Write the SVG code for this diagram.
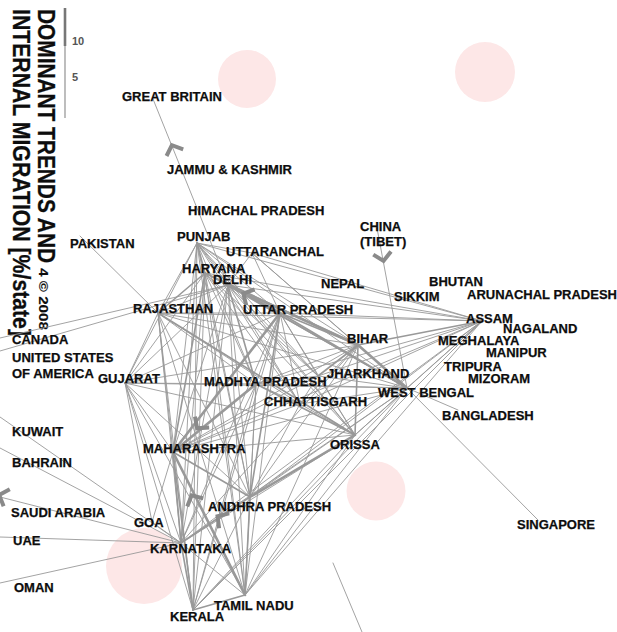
<svg xmlns="http://www.w3.org/2000/svg" width="617" height="632" viewBox="0 0 617 632">
<style>
.lbl{font-family:"Liberation Sans",Arial,Helvetica,sans-serif;font-weight:bold;font-size:13px;fill:#0d0d0d;stroke:#0d0d0d;stroke-width:0.25}
.ttl{font-family:"Liberation Sans",Arial,Helvetica,sans-serif;font-weight:bold;font-size:24px;fill:#0d0d0d;stroke:#0d0d0d;stroke-width:0.3}
.leg{font-family:"Liberation Sans",Arial,Helvetica,sans-serif;font-weight:bold;font-size:11px;fill:#555}
.blob{fill:#fde7e7}
#edges line{stroke:#999;stroke-linecap:round}
.w1{stroke-width:0.9}
.w2{stroke-width:1.6}
.w3{stroke-width:2.6}
.chev{fill:none;stroke:#8a8a8a;stroke-width:4;stroke-linejoin:miter}
</style>
<defs>
<path id="chev" d="M-9,5 L0,-3 L9,5"/>
</defs>
<rect width="617" height="632" fill="#fff"/>
<g id="blobs">
<circle class="blob" cx="247" cy="79" r="29"/>
<circle class="blob" cx="485" cy="72" r="30"/>
<circle class="blob" cx="376" cy="491" r="29.5"/>
<circle class="blob" cx="144" cy="566" r="38"/>
</g>
<g id="title">
<text class="ttl" transform="translate(38,9) rotate(90)" textLength="254" lengthAdjust="spacingAndGlyphs">DOMINANT TRENDS AND</text>
<text class="ttl" style="font-size:12.5px;stroke-width:0.15" transform="translate(39,268) rotate(90)" textLength="62" lengthAdjust="spacingAndGlyphs">4 © 2008</text>
<text class="ttl" transform="translate(13,9) rotate(90)" textLength="327" lengthAdjust="spacingAndGlyphs">INTERNAL MIGRATION [%/state]</text>
</g>
<g id="legend">
<line x1="65" y1="8" x2="65" y2="46" stroke="#777" stroke-width="2.6"/>
<line x1="65" y1="46" x2="65" y2="118" stroke="#888" stroke-width="1.1"/>
<text class="leg" x="72" y="45">10</text>
<text class="leg" x="72" y="81">5</text>
</g>
<g id="edges">
<line class="w1" x1="153" y1="99" x2="228" y2="285"/>
<line class="w1" x1="0" y1="338" x2="228" y2="285"/>
<line class="w1" x1="0" y1="351" x2="228" y2="285"/>
<line class="w1" x1="80" y1="236" x2="158" y2="313"/>
<line class="w1" x1="377" y1="228" x2="407" y2="388"/>
<line class="w1" x1="407" y1="388" x2="458" y2="410"/>
<line class="w1" x1="407" y1="388" x2="538" y2="520"/>
<line class="w1" x1="0" y1="417" x2="181" y2="543"/>
<line class="w1" x1="0" y1="448" x2="181" y2="543"/>
<line class="w1" x1="0" y1="497" x2="181" y2="543"/>
<line class="w1" x1="0" y1="537" x2="181" y2="543"/>
<line class="w1" x1="0" y1="583" x2="181" y2="543"/>
<line class="w1" x1="333" y1="563" x2="362" y2="632"/>
<line class="w1" x1="197" y1="243" x2="158" y2="313"/>
<line class="w1" x1="197" y1="243" x2="125" y2="383"/>
<line class="w1" x1="197" y1="243" x2="173" y2="452"/>
<line class="w1" x1="197" y1="243" x2="181" y2="543"/>
<line class="w1" x1="197" y1="243" x2="256" y2="384"/>
<line class="w1" x1="197" y1="243" x2="280" y2="313"/>
<line class="w1" x1="197" y1="243" x2="358" y2="345"/>
<line class="w1" x1="197" y1="243" x2="482" y2="321"/>
<line class="w1" x1="197" y1="243" x2="407" y2="388"/>
<line class="w2" x1="197" y1="243" x2="205" y2="273"/>
<line class="w1" x1="197" y1="243" x2="228" y2="285"/>
<line class="w1" x1="197" y1="243" x2="300" y2="404"/>
<line class="w1" x1="197" y1="243" x2="355" y2="435"/>
<line class="w1" x1="197" y1="243" x2="193" y2="610"/>
<line class="w1" x1="197" y1="243" x2="245" y2="595"/>
<line class="w1" x1="197" y1="243" x2="250" y2="497"/>
<line class="w1" x1="197" y1="243" x2="318" y2="376"/>
<line class="w1" x1="197" y1="243" x2="252" y2="253"/>
<line class="w2" x1="205" y1="273" x2="158" y2="313"/>
<line class="w1" x1="205" y1="273" x2="125" y2="383"/>
<line class="w2" x1="205" y1="273" x2="173" y2="452"/>
<line class="w1" x1="205" y1="273" x2="256" y2="384"/>
<line class="w1" x1="205" y1="273" x2="280" y2="313"/>
<line class="w2" x1="205" y1="273" x2="358" y2="345"/>
<line class="w1" x1="205" y1="273" x2="482" y2="321"/>
<line class="w1" x1="205" y1="273" x2="407" y2="388"/>
<line class="w1" x1="205" y1="273" x2="181" y2="543"/>
<line class="w1" x1="205" y1="273" x2="250" y2="497"/>
<line class="w1" x1="205" y1="273" x2="355" y2="435"/>
<line class="w1" x1="205" y1="273" x2="245" y2="595"/>
<line class="w1" x1="205" y1="273" x2="318" y2="376"/>
<line class="w1" x1="205" y1="273" x2="300" y2="404"/>
<line class="w1" x1="205" y1="273" x2="193" y2="610"/>
<line class="w1" x1="228" y1="285" x2="158" y2="313"/>
<line class="w1" x1="228" y1="285" x2="125" y2="383"/>
<line class="w1" x1="228" y1="285" x2="173" y2="452"/>
<line class="w2" x1="228" y1="285" x2="256" y2="384"/>
<line class="w3" x1="228" y1="285" x2="280" y2="313"/>
<line class="w3" x1="228" y1="285" x2="358" y2="345"/>
<line class="w1" x1="228" y1="285" x2="482" y2="321"/>
<line class="w2" x1="228" y1="285" x2="407" y2="388"/>
<line class="w1" x1="228" y1="285" x2="181" y2="543"/>
<line class="w1" x1="228" y1="285" x2="250" y2="497"/>
<line class="w1" x1="228" y1="285" x2="355" y2="435"/>
<line class="w1" x1="228" y1="285" x2="245" y2="595"/>
<line class="w1" x1="228" y1="285" x2="193" y2="610"/>
<line class="w1" x1="228" y1="285" x2="318" y2="376"/>
<line class="w1" x1="228" y1="285" x2="300" y2="404"/>
<line class="w1" x1="228" y1="285" x2="252" y2="253"/>
<line class="w1" x1="252" y1="253" x2="280" y2="313"/>
<line class="w1" x1="252" y1="253" x2="482" y2="321"/>
<line class="w1" x1="252" y1="253" x2="358" y2="345"/>
<line class="w1" x1="252" y1="253" x2="407" y2="388"/>
<line class="w1" x1="158" y1="313" x2="125" y2="383"/>
<line class="w1" x1="158" y1="313" x2="173" y2="452"/>
<line class="w1" x1="158" y1="313" x2="256" y2="384"/>
<line class="w1" x1="158" y1="313" x2="280" y2="313"/>
<line class="w1" x1="158" y1="313" x2="358" y2="345"/>
<line class="w1" x1="158" y1="313" x2="482" y2="321"/>
<line class="w1" x1="158" y1="313" x2="407" y2="388"/>
<line class="w1" x1="158" y1="313" x2="181" y2="543"/>
<line class="w1" x1="158" y1="313" x2="245" y2="595"/>
<line class="w1" x1="158" y1="313" x2="250" y2="497"/>
<line class="w2" x1="158" y1="313" x2="355" y2="435"/>
<line class="w1" x1="158" y1="313" x2="300" y2="404"/>
<line class="w1" x1="158" y1="313" x2="193" y2="610"/>
<line class="w1" x1="280" y1="313" x2="256" y2="384"/>
<line class="w3" x1="280" y1="313" x2="173" y2="452"/>
<line class="w1" x1="280" y1="313" x2="125" y2="383"/>
<line class="w2" x1="280" y1="313" x2="358" y2="345"/>
<line class="w1" x1="280" y1="313" x2="482" y2="321"/>
<line class="w2" x1="280" y1="313" x2="407" y2="388"/>
<line class="w1" x1="280" y1="313" x2="318" y2="376"/>
<line class="w1" x1="280" y1="313" x2="355" y2="435"/>
<line class="w1" x1="280" y1="313" x2="300" y2="404"/>
<line class="w1" x1="280" y1="313" x2="181" y2="543"/>
<line class="w2" x1="280" y1="313" x2="250" y2="497"/>
<line class="w1" x1="280" y1="313" x2="245" y2="595"/>
<line class="w1" x1="280" y1="313" x2="193" y2="610"/>
<line class="w3" x1="358" y1="345" x2="407" y2="388"/>
<line class="w2" x1="358" y1="345" x2="318" y2="376"/>
<line class="w2" x1="358" y1="345" x2="355" y2="435"/>
<line class="w2" x1="358" y1="345" x2="482" y2="321"/>
<line class="w1" x1="358" y1="345" x2="256" y2="384"/>
<line class="w1" x1="358" y1="345" x2="173" y2="452"/>
<line class="w1" x1="358" y1="345" x2="125" y2="383"/>
<line class="w1" x1="358" y1="345" x2="181" y2="543"/>
<line class="w1" x1="358" y1="345" x2="250" y2="497"/>
<line class="w1" x1="358" y1="345" x2="300" y2="404"/>
<line class="w1" x1="358" y1="345" x2="245" y2="595"/>
<line class="w1" x1="318" y1="376" x2="407" y2="388"/>
<line class="w1" x1="318" y1="376" x2="355" y2="435"/>
<line class="w1" x1="318" y1="376" x2="256" y2="384"/>
<line class="w1" x1="318" y1="376" x2="300" y2="404"/>
<line class="w1" x1="318" y1="376" x2="173" y2="452"/>
<line class="w1" x1="318" y1="376" x2="482" y2="321"/>
<line class="w1" x1="407" y1="388" x2="482" y2="321"/>
<line class="w1" x1="407" y1="388" x2="355" y2="435"/>
<line class="w1" x1="407" y1="388" x2="256" y2="384"/>
<line class="w1" x1="407" y1="388" x2="300" y2="404"/>
<line class="w1" x1="407" y1="388" x2="173" y2="452"/>
<line class="w1" x1="407" y1="388" x2="250" y2="497"/>
<line class="w1" x1="407" y1="388" x2="181" y2="543"/>
<line class="w1" x1="407" y1="388" x2="245" y2="595"/>
<line class="w1" x1="407" y1="388" x2="193" y2="610"/>
<line class="w1" x1="407" y1="388" x2="125" y2="383"/>
<line class="w1" x1="482" y1="321" x2="355" y2="435"/>
<line class="w1" x1="482" y1="321" x2="250" y2="497"/>
<line class="w1" x1="482" y1="321" x2="245" y2="595"/>
<line class="w1" x1="482" y1="321" x2="193" y2="610"/>
<line class="w1" x1="482" y1="321" x2="181" y2="543"/>
<line class="w1" x1="482" y1="321" x2="173" y2="452"/>
<line class="w1" x1="482" y1="321" x2="256" y2="384"/>
<line class="w1" x1="482" y1="321" x2="300" y2="404"/>
<line class="w1" x1="125" y1="383" x2="173" y2="452"/>
<line class="w1" x1="125" y1="383" x2="256" y2="384"/>
<line class="w1" x1="125" y1="383" x2="181" y2="543"/>
<line class="w1" x1="125" y1="383" x2="193" y2="610"/>
<line class="w1" x1="125" y1="383" x2="245" y2="595"/>
<line class="w1" x1="125" y1="383" x2="250" y2="497"/>
<line class="w1" x1="125" y1="383" x2="152" y2="522"/>
<line class="w1" x1="125" y1="383" x2="355" y2="435"/>
<line class="w3" x1="256" y1="384" x2="173" y2="452"/>
<line class="w1" x1="256" y1="384" x2="300" y2="404"/>
<line class="w2" x1="256" y1="384" x2="355" y2="435"/>
<line class="w1" x1="256" y1="384" x2="250" y2="497"/>
<line class="w1" x1="256" y1="384" x2="181" y2="543"/>
<line class="w1" x1="256" y1="384" x2="245" y2="595"/>
<line class="w1" x1="256" y1="384" x2="193" y2="610"/>
<line class="w1" x1="300" y1="404" x2="355" y2="435"/>
<line class="w1" x1="300" y1="404" x2="173" y2="452"/>
<line class="w1" x1="300" y1="404" x2="250" y2="497"/>
<line class="w2" x1="173" y1="452" x2="181" y2="543"/>
<line class="w2" x1="173" y1="452" x2="193" y2="610"/>
<line class="w3" x1="173" y1="452" x2="245" y2="595"/>
<line class="w2" x1="173" y1="452" x2="250" y2="497"/>
<line class="w1" x1="173" y1="452" x2="152" y2="522"/>
<line class="w1" x1="173" y1="452" x2="355" y2="435"/>
<line class="w3" x1="355" y1="435" x2="250" y2="497"/>
<line class="w1" x1="355" y1="435" x2="181" y2="543"/>
<line class="w1" x1="355" y1="435" x2="245" y2="595"/>
<line class="w1" x1="355" y1="435" x2="193" y2="610"/>
<line class="w2" x1="250" y1="497" x2="181" y2="543"/>
<line class="w2" x1="250" y1="497" x2="245" y2="595"/>
<line class="w1" x1="250" y1="497" x2="193" y2="610"/>
<line class="w2" x1="181" y1="543" x2="193" y2="610"/>
<line class="w1" x1="181" y1="543" x2="245" y2="595"/>
<line class="w1" x1="181" y1="543" x2="152" y2="522"/>
<line class="w2" x1="193" y1="610" x2="245" y2="595"/>
</g>
<g id="arrows">
<use href="#chev" class="chev" transform="translate(173,148) rotate(-22)"/>
<use href="#chev" class="chev" transform="translate(383,258) rotate(170)"/>
<use href="#chev" class="chev" transform="translate(246,295) rotate(-62)"/>
<use href="#chev" class="chev" transform="translate(199,426) rotate(-142)"/>
<use href="#chev" class="chev" transform="translate(193,498) rotate(-27)"/>
<use href="#chev" class="chev" transform="translate(220,518) rotate(-56)"/>
<use href="#chev" class="chev" transform="translate(2,496) rotate(-70)"/>
</g>
<g id="n-great-britain"><text class="lbl" x="122" y="101">GREAT BRITAIN</text></g>
<g id="n-jammu-kashmir"><text class="lbl" x="167" y="174">JAMMU &amp; KASHMIR</text></g>
<g id="n-himachal"><text class="lbl" x="188" y="215">HIMACHAL PRADESH</text></g>
<g id="n-punjab"><text class="lbl" x="177" y="241">PUNJAB</text></g>
<g id="n-pakistan"><text class="lbl" x="70" y="248">PAKISTAN</text></g>
<g id="n-uttaranchal"><text class="lbl" x="226" y="256">UTTARANCHAL</text></g>
<g id="n-haryana"><text class="lbl" x="182" y="273">HARYANA</text></g>
<g id="n-delhi"><text class="lbl" x="213" y="284">DELHI</text></g>
<g id="n-nepal"><text class="lbl" x="321" y="288">NEPAL</text></g>
<g id="n-china"><text class="lbl" x="360" y="231">CHINA</text><text class="lbl" x="360" y="246">(TIBET)</text></g>
<g id="n-bhutan"><text class="lbl" x="429" y="286">BHUTAN</text></g>
<g id="n-sikkim"><text class="lbl" x="394" y="301">SIKKIM</text></g>
<g id="n-arunachal"><text class="lbl" x="467" y="299">ARUNACHAL PRADESH</text></g>
<g id="n-rajasthan"><text class="lbl" x="133" y="313">RAJASTHAN</text></g>
<g id="n-uttar-pradesh"><text class="lbl" x="243" y="314">UTTAR PRADESH</text></g>
<g id="n-assam"><text class="lbl" x="466" y="323">ASSAM</text></g>
<g id="n-nagaland"><text class="lbl" x="503" y="333">NAGALAND</text></g>
<g id="n-canada"><text class="lbl" x="12" y="344">CANADA</text></g>
<g id="n-bihar"><text class="lbl" x="347" y="343">BIHAR</text></g>
<g id="n-meghalaya"><text class="lbl" x="438" y="345">MEGHALAYA</text></g>
<g id="n-manipur"><text class="lbl" x="486" y="357">MANIPUR</text></g>
<g id="n-usa"><text class="lbl" x="12" y="362">UNITED STATES</text><text class="lbl" x="12" y="378">OF AMERICA</text></g>
<g id="n-tripura"><text class="lbl" x="444" y="371">TRIPURA</text></g>
<g id="n-jharkhand"><text class="lbl" x="327" y="378">JHARKHAND</text></g>
<g id="n-gujarat"><text class="lbl" x="98" y="383">GUJARAT</text></g>
<g id="n-mizoram"><text class="lbl" x="468" y="383">MIZORAM</text></g>
<g id="n-madhya-pradesh"><text class="lbl" x="204" y="386">MADHYA PRADESH</text></g>
<g id="n-west-bengal"><text class="lbl" x="378" y="397">WEST BENGAL</text></g>
<g id="n-chhattisgarh"><text class="lbl" x="264" y="406">CHHATTISGARH</text></g>
<g id="n-bangladesh"><text class="lbl" x="442" y="420">BANGLADESH</text></g>
<g id="n-kuwait"><text class="lbl" x="12" y="436">KUWAIT</text></g>
<g id="n-orissa"><text class="lbl" x="330" y="449">ORISSA</text></g>
<g id="n-maharashtra"><text class="lbl" x="143" y="453">MAHARASHTRA</text></g>
<g id="n-bahrain"><text class="lbl" x="12" y="467">BAHRAIN</text></g>
<g id="n-andhra-pradesh"><text class="lbl" x="208" y="511">ANDHRA PRADESH</text></g>
<g id="n-saudi-arabia"><text class="lbl" x="11" y="517">SAUDI ARABIA</text></g>
<g id="n-goa"><text class="lbl" x="134" y="527">GOA</text></g>
<g id="n-singapore"><text class="lbl" x="517" y="529">SINGAPORE</text></g>
<g id="n-uae"><text class="lbl" x="13" y="545">UAE</text></g>
<g id="n-karnataka"><text class="lbl" x="150" y="553">KARNATAKA</text></g>
<g id="n-oman"><text class="lbl" x="14" y="592">OMAN</text></g>
<g id="n-tamil-nadu"><text class="lbl" x="214" y="610">TAMIL NADU</text></g>
<g id="n-kerala"><text class="lbl" x="170" y="621">KERALA</text></g>
</svg>
